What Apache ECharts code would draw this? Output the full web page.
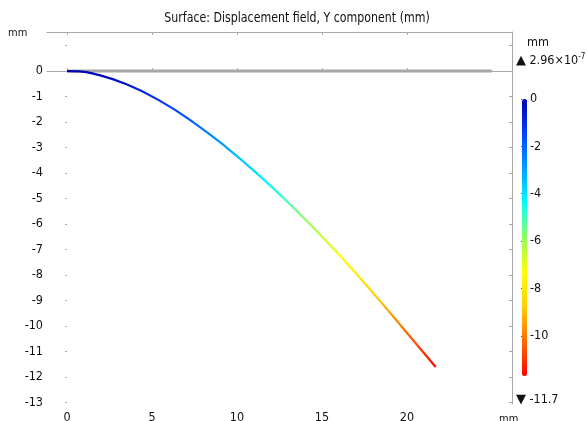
<!DOCTYPE html>
<html>
<head>
<meta charset="utf-8">
<script src="https://cdn.jsdelivr.net/npm/echarts@6/dist/echarts.min.js"></script>
<style>html,body{margin:0;padding:0;background:#fff;}#c{width:587px;height:421px;}</style>
</head>
<body>
<div id="c"></div>
<script>
// ---- data ----
const titleText = 'Surface: Displacement field, Y component (mm)';
const xTicks = [0, 5, 10, 15, 20];
const yTicks = [1, 0, -1, -2, -3, -4, -5, -6, -7, -8, -9, -10, -11, -12, -13];
const yLabels = [0, -1, -2, -3, -4, -5, -6, -7, -8, -9, -10, -11, -12, -13];
const undeformedX = [0, 25];
const undeformedY = [0, 0];
const deformedX = [0, 0.6, 1.55, 3.5, 5.47, 7.43, 9.39, 11.35, 13.31, 15.28, 17.24, 19.19, 21.69];
const deformedY = [0, -0.01, -0.1, -0.52, -1.17, -2.01, -3.0, -4.12, -5.35, -6.68, -8.11, -9.62, -11.6];
const colorMin = -11.7;
const colorMax = 0;
const colorTicks = [0, -2, -4, -6, -8, -10];
const maxLabel = '2.96×10';
const maxExp = '-7';
const minLabel = '-11.7';

const FONT = 'DejaVu Sans Condensed, DejaVu Sans, sans-serif';
const AX = '#a8a8a8';
const TXT = '#111';
const jet = ['#ff0000', '#ff6a00', '#ffd000', '#ffff00', '#90ff60', '#00ffff', '#00a0ff', '#0040ff', '#0000b0'];

const chart = echarts.init(document.getElementById('c'), null, {renderer: 'canvas'});
chart.setOption({
  animation: false,
  backgroundColor: '#fff',
  grid: [
    {left: 47, right: 75, top: 32, bottom: 17, containLabel: false, outerBoundsMode: 'none'},
    {left: 522, width: 5, top: 99, height: 277, containLabel: false, outerBoundsMode: 'none'}
  ],
  xAxis: [
    {gridIndex: 0, type: 'value', min: -1.18, max: 26.18, position: 'bottom',
     axisLine: {show: true, lineStyle: {color: AX, width: 1}},
     axisTick: {show: true, inside: true, length: 3, lineStyle: {color: AX}, customValues: xTicks},
     axisLabel: {show: true, margin: 7, color: TXT, fontFamily: FONT, fontSize: 12.5, customValues: xTicks},
     splitLine: {show: false}},
    {gridIndex: 0, type: 'value', min: -1.18, max: 26.18, position: 'top',
     axisLine: {show: true, onZero: false, lineStyle: {color: AX, width: 1}},
     axisTick: {show: true, inside: true, length: 3, lineStyle: {color: AX}, customValues: xTicks},
     axisLabel: {show: false}, splitLine: {show: false}},
    {gridIndex: 1, type: 'value', show: false, min: 0, max: 1}
  ],
  yAxis: [
    {gridIndex: 0, type: 'value', min: -13.05, max: 1.53, position: 'left',
     axisLine: {show: false},
     axisTick: {show: true, inside: false, length: 2, lineStyle: {color: AX}, customValues: yTicks},
     axisLabel: {show: true, margin: 4, color: TXT, fontFamily: FONT, fontSize: 12.5, customValues: yLabels},
     splitLine: {show: false}},
    {gridIndex: 0, type: 'value', min: -13.05, max: 1.53, position: 'right',
     axisLine: {show: true, onZero: false, lineStyle: {color: AX, width: 1}},
     axisTick: {show: true, inside: true, length: 3, lineStyle: {color: AX}, customValues: yTicks},
     axisLabel: {show: false}, splitLine: {show: false}},
    {gridIndex: 1, type: 'value', min: colorMin, max: colorMax, position: 'right',
     axisLine: {show: false},
     axisTick: {show: true, inside: true, length: 1, lineStyle: {color: '#555'}, customValues: colorTicks},
     axisLabel: {show: true, margin: 3, color: TXT, fontFamily: FONT, fontSize: 12.5, customValues: colorTicks},
     splitLine: {show: false}}
  ],
  visualMap: {
    type: 'continuous', seriesIndex: 1, dimension: 1,
    min: colorMin, max: colorMax,
    inRange: {color: jet},
    show: true, calculable: false, text: ['', ''],
    orient: 'vertical', left: 522, top: 99, itemWidth: 5, itemHeight: 277, padding: 0,
    textStyle: {fontSize: 0}
  },
  series: [
    {type: 'line', xAxisIndex: 0, yAxisIndex: 0, symbol: 'none', silent: true,
     data: undeformedX.map((x, i) => [x, undeformedY[i]]),
     lineStyle: {color: '#a6a6a6', width: 3}, z: 1},
    {type: 'line', xAxisIndex: 0, yAxisIndex: 0, symbol: 'none', smooth: true, silent: true,
     data: deformedX.map((x, i) => [x, deformedY[i]]),
     lineStyle: {width: 2.2}, z: 2}
  ],
  graphic: [
    {type: 'text', x: 297, y: 18, scaleX: 0.875, style: {x: 0, y: 0, text: titleText, fontFamily: FONT, fontSize: 14, fill: TXT, textAlign: 'center', textVerticalAlign: 'middle'}},
    {type: 'text', style: {x: 8, y: 33, text: 'mm', fontFamily: FONT, fontSize: 11, fill: TXT, textVerticalAlign: 'middle'}},
    {type: 'text', style: {x: 527, y: 43, text: 'mm', fontFamily: FONT, fontSize: 12.5, fill: TXT, textVerticalAlign: 'middle'}},
    {type: 'text', style: {x: 516, y: 61, text: '{t|▲} {a|' + maxLabel + '}{b|' + maxExp + '}', fontFamily: FONT, fill: TXT, textVerticalAlign: 'middle',
      rich: {t: {fontSize: 13, fontFamily: 'DejaVu Sans'}, a: {fontSize: 12.5, fontFamily: FONT}, b: {fontSize: 8, fontFamily: FONT, verticalAlign: 'top', padding: [0, 0, 8, 0]}}}},
    {type: 'text', style: {x: 516, y: 400, text: '{t|▼} {a|' + minLabel + '}', fontFamily: FONT, fill: TXT, textVerticalAlign: 'middle',
      rich: {t: {fontSize: 13, fontFamily: 'DejaVu Sans'}, a: {fontSize: 12.5, fontFamily: FONT}}}},
    {type: 'text', style: {x: 499, y: 414, text: 'mm', fontFamily: FONT, fontSize: 11, fill: TXT}}
  ]
});
</script>
</body>
</html>
